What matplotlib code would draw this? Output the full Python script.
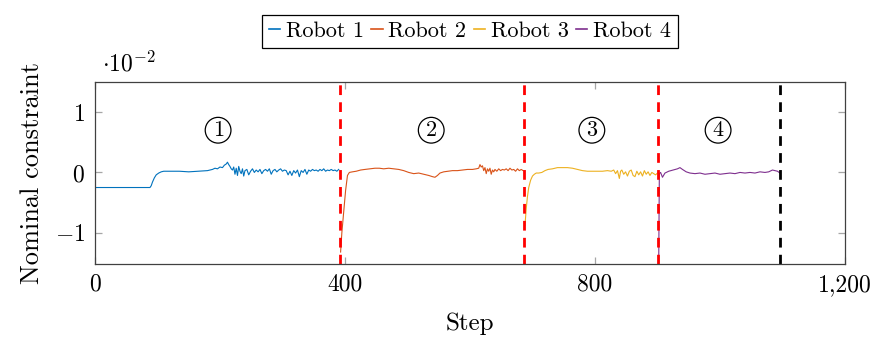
import numpy as np
import matplotlib
matplotlib.use('Agg')
import matplotlib.pyplot as plt

plt.rcParams['font.family'] = 'serif'
plt.rcParams['font.serif'] = ['cmr10']
plt.rcParams['mathtext.fontset'] = 'cm'
plt.rcParams['axes.unicode_minus'] = False

# nominal constraint per robot, in units of 1e-2
r1_step = [0, 88, 90, 92, 95, 98, 102, 106, 110, 120, 135, 150, 165, 180, 188, 192,
           196, 200, 204, 207, 210, 212, 214, 216, 218, 220, 222, 224, 226, 228, 230,
           232, 234, 236, 238, 240, 243, 246, 249, 252, 255, 258, 261, 264, 267, 270,
           273, 276, 279, 282, 285, 288, 291, 294, 297, 300, 303, 306, 309, 312, 315,
           318, 321, 324, 327, 330, 333, 336, 339, 342, 345, 348, 351, 354, 357, 360,
           363, 366, 369, 372, 375, 378, 381, 384, 387, 390]
r1_val = [-0.25, -0.25, -0.22, -0.16, -0.09, -0.04, -0.01, 0.01, 0.02, 0.02, 0.02, 0.01,
          0.02, 0.03, 0.05, 0.07, 0.06, 0.09, 0.08, 0.12, 0.14, 0.17, 0.13, 0.10, 0.06,
          0.04, 0.09, -0.03, 0.07, -0.05, 0.10, 0.02, -0.02, 0.06, -0.06, 0.03, 0.05,
          -0.04, 0.02, 0.06, 0.00, 0.04, 0.01, 0.05, -0.02, 0.03, 0.05, 0.02, 0.06, -0.03,
          0.03, 0.05, 0.01, 0.04, 0.06, 0.02, 0.04, 0.03, -0.04, 0.02, -0.05, 0.03, -0.01,
          0.04, -0.07, 0.03, 0.00, 0.05, -0.03, 0.04, 0.02, 0.05, 0.03, 0.04, 0.02, 0.05,
          0.03, 0.06, 0.02, 0.04, 0.03, 0.05, 0.03, 0.04, 0.02, 0.05]

r2_step = [393, 395, 398, 401, 404, 407, 412, 418, 425, 432, 440, 448, 455, 462, 470,
           478, 486, 494, 502, 510, 518, 526, 534, 540, 544, 548, 552, 558, 565, 572,
           580, 588, 596, 604, 610, 614, 616, 618, 620, 622, 624, 626, 628, 630, 632,
           634, 636, 638, 640, 643, 646, 649, 652, 655, 658, 661, 664, 667, 670, 673,
           676, 679, 682, 685]
r2_val = [-1.32, -1.0, -0.65, -0.3, -0.05, 0.0, 0.01, 0.02, 0.04, 0.05, 0.06, 0.07,
          0.07, 0.06, 0.07, 0.06, 0.05, 0.03, 0.0, -0.02, -0.01, -0.03, -0.05, -0.07,
          -0.08, -0.05, -0.01, 0.01, 0.02, 0.03, 0.03, 0.04, 0.05, 0.05, 0.06, 0.07,
          0.13, 0.09, 0.11, 0.03, 0.08, -0.02, 0.06, 0.02, 0.07, -0.03, 0.04, 0.01,
          0.05, 0.02, 0.06, 0.03, 0.05, 0.04, 0.06, 0.03, 0.07, 0.04, 0.05, 0.02,
          0.06, 0.03, 0.05, 0.03]

r3_step = [688, 690, 692, 694, 697, 700, 703, 706, 710, 715, 720, 725, 732, 740, 748,
           756, 764, 772, 780, 788, 796, 804, 812, 820, 826, 830, 833, 836, 839, 841,
           843, 846, 849, 852, 855, 858, 861, 864, 867, 870, 873, 876, 879, 882, 885,
           888, 891, 894, 897, 900]
r3_val = [-0.88, -0.6, -0.4, -0.25, -0.13, -0.06, -0.03, -0.01, -0.01, 0.0, 0.03,
          0.05, 0.06, 0.08, 0.08, 0.08, 0.07, 0.05, 0.03, 0.02, 0.02, 0.02, 0.02,
          0.03, 0.02, 0.04, -0.02, 0.03, -0.1, 0.02, 0.04, -0.03, 0.01, -0.06, 0.02,
          0.04, -0.05, -0.07, 0.02, -0.04, 0.01, -0.06, 0.03, -0.03, 0.01, -0.05,
          0.0, -0.02, -0.04, -0.01]

r4_step = [902, 903, 905, 908, 912, 918, 925, 932, 936, 940, 946, 952, 960, 968, 976,
           984, 992, 1000, 1008, 1016, 1024, 1032, 1040, 1048, 1056, 1064, 1072, 1078,
           1084, 1088, 1092, 1096]
r4_val = [-1.5, -0.02, 0.0, -0.08, -0.01, 0.02, 0.04, 0.06, 0.08, 0.05, 0.01, -0.01,
          -0.02, -0.01, -0.03, -0.02, -0.01, -0.03, -0.02, -0.01, -0.02, 0.0, -0.01,
          0.0, -0.01, 0.01, 0.0, 0.01, 0.04, 0.03, 0.02, -0.01]

labels = ['Robot 1', 'Robot 2', 'Robot 3', 'Robot 4']
colors = ['#0072BD', '#D95319', '#EDB120', '#7E2F8E']
switch_steps = [392, 686, 901]
end_step = 1096
phase_x = [197, 538, 795, 997]
phase_y = 0.7

fig = plt.figure(figsize=(8.81, 3.43), dpi=100)
ax = fig.add_axes([0.1078, 0.230, 0.8513, 0.531])

steps = [r1_step, r2_step, r3_step, r4_step]
vals = [r1_val, r2_val, r3_val, r4_val]
for s, v, c, lab in zip(steps, vals, colors, labels):
    ax.plot(s, v, color=c, lw=0.8, label=lab)

for xs in switch_steps:
    ax.axvline(xs, color='red', lw=2.0, dashes=(3.5, 2.6))
ax.axvline(end_step, color='black', lw=2.0, dashes=(3.5, 2.6))

for i, xp in enumerate(phase_x):
    ax.text(xp, phase_y, str(i + 1), fontsize=16, ha='center', va='center',
            bbox=dict(boxstyle='circle,pad=0.14', fc='none', ec='black', lw=0.9))

ax.set_xlim(0, 1200)
ax.set_ylim(-1.52, 1.5)
ax.set_xticks([0, 400, 800, 1200])
ax.set_xticklabels(['0', '400', '800', '1,200'])
ax.set_yticks([-1, 0, 1])
ax.set_yticklabels(['$-1$', '$0$', '$1$'])
ax.tick_params(direction='in', length=5, width=0.9, color='0.65',
               top=True, right=True, labelsize=17, pad=7)
for sp in ax.spines.values():
    sp.set_color('0.25')
    sp.set_linewidth(0.9)

ax.set_xlabel('Step', fontsize=18, labelpad=12)
ax.set_ylabel('Nominal constraint', fontsize=19, labelpad=8)
ax.text(0.01, 1.03, r'$\cdot10^{-2}$', transform=ax.transAxes, fontsize=17,
        ha='left', va='bottom')

leg = ax.legend(loc='lower center', bbox_to_anchor=(0.5, 1.187), ncol=4,
                fontsize=16, handlelength=0.5, handletextpad=0.25,
                columnspacing=0.35, borderaxespad=0, fancybox=False,
                borderpad=0.3, framealpha=1)
leg.get_frame().set_edgecolor('black')
leg.get_frame().set_linewidth(0.9)
for h in leg.get_lines():
    h.set_linewidth(1.2)

fig.savefig('out.png', dpi=100)
